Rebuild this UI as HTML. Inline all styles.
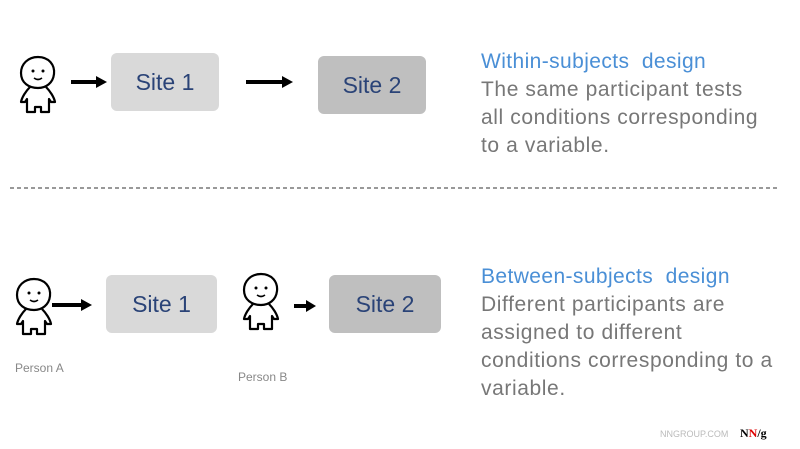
<!DOCTYPE html>
<html><head><style>
body{margin:0;width:800px;height:449px;background:#fff;position:relative;overflow:hidden;font-family:"Liberation Sans",Arial,sans-serif}
.box{position:absolute;border-radius:6px;display:flex;align-items:center;justify-content:center;color:#2a4377;font-size:23px}
.t{position:absolute;left:481px;font-size:21px;line-height:28px;color:#777;letter-spacing:0.6px;white-space:nowrap}
.t b{font-weight:normal;color:#4a8fd6;display:block;letter-spacing:0.4px}
.lbl{position:absolute;font-size:12px;color:#888}
svg{position:absolute;left:0;top:0}
</style></head><body>
<svg width="800" height="449">
<defs>
<g id="p" fill="#fff" stroke="#000" stroke-width="2.2" stroke-linejoin="round">
<path d="M11 30 C7 34 3 40 2 45 L6 45 L8 42 L8 55 L16 55 L16 50 L22 50 L22 55 L30 55 L30 42 L32 45 L36 45 C35 40 31 34 27 30"/>
<path d="M19 0 C30 0 36 8 35 17 C34 26 27 31 19 31 C10 31 2 26 2 16 C2 7 9 0 19 0 Z"/>
<circle cx="14" cy="14" r="1.5" fill="#000" stroke="none"/>
<circle cx="24" cy="14" r="1.5" fill="#000" stroke="none"/>
<path d="M15 21 Q19 24 23 21" fill="none" stroke-width="1.6"/>
</g>
</defs>
<use href="#p" x="19" y="57"/>
<use href="#p" x="15" y="279"/>
<use href="#p" x="242" y="274"/>
<g stroke="#000" stroke-width="4"><line x1="71" y1="82" x2="98" y2="82"/><line x1="246" y1="82" x2="284" y2="82"/><line x1="52" y1="305" x2="83" y2="305"/><line x1="294" y1="306" x2="308" y2="306"/></g>
<g fill="#000"><path d="M96 76 L107 82 L96 88Z"/><path d="M282 76 L293 82 L282 88Z"/><path d="M81 299 L92 305 L81 311Z"/><path d="M306 300 L316 306 L306 312Z"/></g>
<line x1="10" y1="188" x2="778" y2="188" stroke="#333" stroke-width="1" stroke-dasharray="4,3"/>
</svg>
<div class="box" style="left:111px;top:53px;width:108px;height:58px;background:#d9d9d9">Site 1</div>
<div class="box" style="left:318px;top:56px;width:108px;height:58px;background:#bfbfbf">Site 2</div>
<div class="box" style="left:106px;top:275px;width:111px;height:58px;background:#d9d9d9">Site 1</div>
<div class="box" style="left:329px;top:275px;width:112px;height:58px;background:#bfbfbf">Site 2</div>
<div class="t" style="top:48px"><b>Within-subjects&nbsp; design</b>The same participant tests<br>all conditions corresponding<br>to a variable.</div>
<div class="t" style="top:263px"><b>Between-subjects&nbsp; design</b>Different participants are<br>assigned to different<br>conditions corresponding to a<br>variable.</div>
<div class="lbl" style="left:15px;top:361px">Person A</div>
<div class="lbl" style="left:238px;top:370px">Person B</div>
<div style="position:absolute;left:660px;top:429px;font-size:9px;color:#bbb">NNGROUP.COM</div>
<div style="position:absolute;left:740px;top:426px;font-size:12px;font-weight:bold;font-family:'Liberation Serif',serif">N<span style="color:#d00">N</span>/g</div>
</body></html>
